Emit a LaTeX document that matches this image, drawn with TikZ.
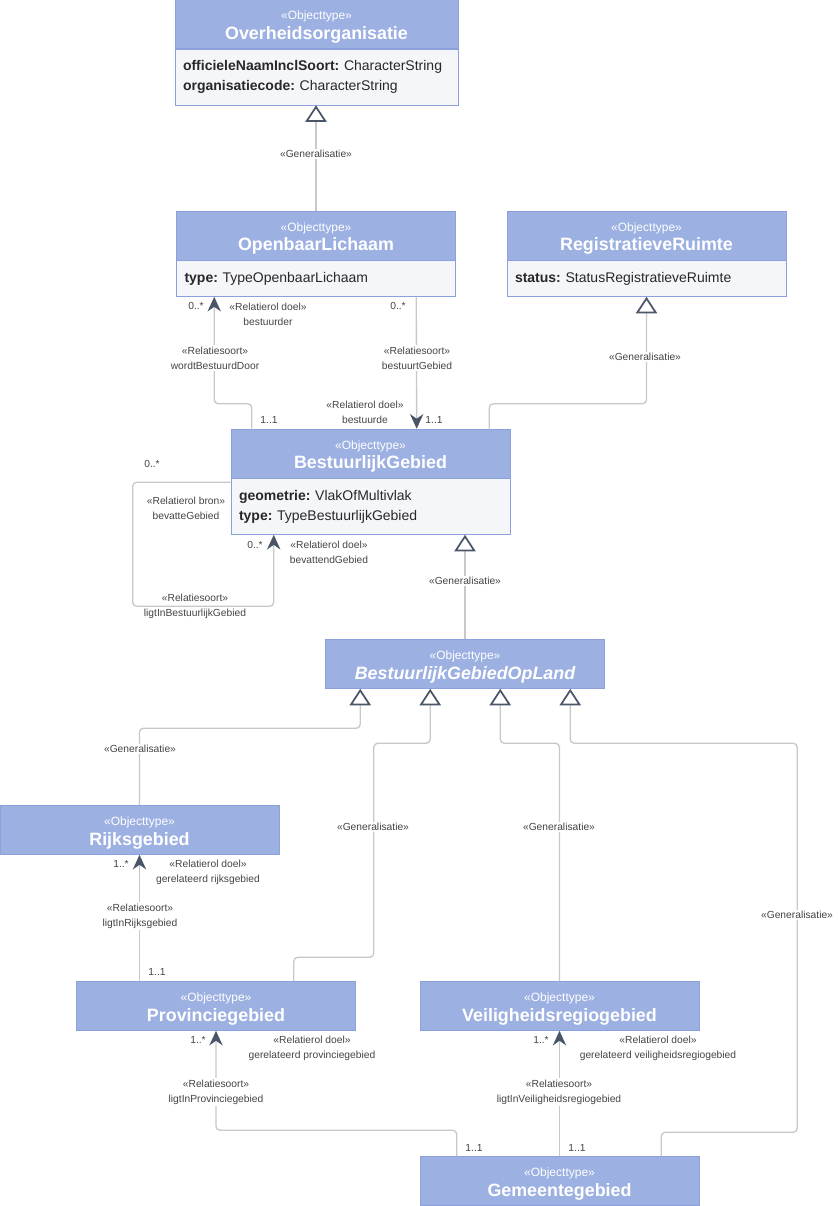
\documentclass[tikz,border=0pt]{standalone}
\usepackage{fontspec}
\setmainfont{Liberation Sans}
\usepackage{xcolor}
\usetikzlibrary{positioning,calc,arrows.meta}
\definecolor{umlhead}{RGB}{157,176,226}
\definecolor{umlborder}{RGB}{140,160,220}
\definecolor{umlbody}{RGB}{245,246,250}
\definecolor{linegray}{RGB}{200,200,200}
\definecolor{tipgray}{RGB}{74,85,104}
\definecolor{txtdark}{RGB}{40,40,40}
\definecolor{lbltxt}{RGB}{68,68,68}
\frenchspacing
\newcommand{\objhead}[1]{{\fontsize{9}{10}\selectfont\rule{0pt}{11pt}«Objecttype»}\\[2.5pt]{\fontsize{13.4}{16}\selectfont\bfseries #1}}
\newcommand{\attr}[2]{\textbf{#1:} #2}

\begin{document}
\begin{tikzpicture}[
  x=0.75pt, y=-0.75pt,
  hdr/.style={draw=umlborder, fill=umlhead, text=white, align=center, minimum width=#1, minimum height=36.75pt, inner sep=0pt},
  hdr/.default=209.25pt,
  body/.style={draw=umlborder, fill=umlbody, text=txtdark, align=left, text width=#1-12pt, inner xsep=6pt, inner ysep=0pt, minimum height=27pt, font=\fontsize{10.5}{15}\selectfont},
  body/.default=209.25pt,
  conn/.style={draw=linegray, line width=1pt, rounded corners=3pt},
  gen/.style={conn, -{Triangle[open, length=12.5pt, width=16pt, line width=1.3pt, color=tipgray, fill=white]}},
  assoc/.style={conn, -{Stealth[length=11pt, width=10pt, inset=3.5pt, color=tipgray]}},
  lbl/.style={fill=white, text=lbltxt, align=center, inner sep=1pt, font=\fontsize{7.7}{11.25}\selectfont},
  mult/.style={lbl, fill=none},
]
\useasboundingbox (0,0) rectangle (838,1206);
% ================= CLASSES =================
\node[hdr=212.25pt] (ovh) at (316.5,24) {\objhead{Overheidsorganisatie}};
\node[body=212.25pt, minimum height=42pt, below=0pt of ovh] (ovhb) {\attr{officieleNaamInclSoort}{CharacterString}\\\attr{organisatiecode}{CharacterString}};
\node[hdr] (ol) at (316,235.5) {\objhead{OpenbaarLichaam}};
\node[body, below=0pt of ol] (olb) {\attr{type}{TypeOpenbaarLichaam}};
\node[hdr] (rr) at (646.5,235.5) {\objhead{RegistratieveRuimte}};
\node[body, below=0pt of rr] (rrb) {\attr{status}{StatusRegistratieveRuimte}};
\node[hdr] (bg) at (370.5,453.5) {\objhead{BestuurlijkGebied}};
\node[body, minimum height=42pt, below=0pt of bg] (bgb) {\attr{geometrie}{VlakOfMultivlak}\\\attr{type}{TypeBestuurlijkGebied}};
\node[hdr] (bgol) at (465,664) {\objhead{\itshape BestuurlijkGebiedOpLand}};
\node[hdr] (rijk) at (139.5,830) {\objhead{Rijksgebied}};
\node[hdr] (prov) at (216,1006) {\objhead{Provinciegebied}};
\node[hdr] (veil) at (559.5,1006) {\objhead{Veiligheidsregiogebied}};
\node[hdr] (gem) at (559.5,1181) {\objhead{Gemeentegebied}};
% ================= GENERALISATIONS =================
\draw[gen] (ol.north) -- (ol.north |- ovhb.south);
\draw[gen] ($(bg.north east)+(-21,0)$) -- ++(0,-25) -| (rrb.south);
\draw[gen] (bgol.north) -- (bgol.north |- bgb.south);
\draw[gen] (rijk.north) -- ++(0,-77) -| ($(bgol.south west)+(35,0)$);
\draw[gen] ($(prov.north east)+(-62,0)$) -- ++(0,-24) -- ++(80,0) -- ++(0,-214) -| ($(bgol.south west)+(105,0)$);
\draw[gen] (veil.north) -- ++(0,-238) -| ($(bgol.south west)+(175,0)$);
\draw[gen] ($(gem.north east)+(-38,0)$) -- ++(0,-24) -- ++(136,0) -- ++(0,-389) -| ($(bgol.south west)+(245,0)$);
% ================= RELATIONS =================
\draw[assoc] ($(bg.north west)+(21,0)$) -- ++(0,-25) -| ($(olb.south west)+(38,0)$);
\draw[assoc] ($(olb.south west)+(240,0)$) -- ($(bg.north west)+(186,0)$);
\draw[assoc] ($(bgb.north west)+(0,4)$) -- ++(-98,0) -- ++(0,124) -| ($(bgb.south west)+(43,0)$);
\draw[assoc] (rijk.south |- prov.north) -- (rijk.south);
\draw[assoc] ($(gem.north west)+(37,0)$) -- ++(0,-26) -| (prov.south);
\draw[assoc] (gem.north) -- (veil.south);
% ================= LABELS =================
\node[lbl] (g1) at (316,154) {«Generalisatie»};
\node[lbl] (g2) at (645,357) {«Generalisatie»};
\node[lbl] (g3) at (465,581) {«Generalisatie»};
\node[lbl] (g4) at (140,749) {«Generalisatie»};
\node[lbl] (g5) at (373,827) {«Generalisatie»};
\node[lbl] (g6) at (559,827) {«Generalisatie»};
\node[lbl] (g7) at (797,915) {«Generalisatie»};
% wordtBestuurdDoor
\node[mult] (m1) at (196,306) {0..*};
\node[mult] (r1) at (268,314) {«Relatierol doel»\\bestuurder};
\node[lbl] (s1) at (215,358) {«Relatiesoort»\\wordtBestuurdDoor};
\node[mult] (m2) at (269,420) {1..1};
% bestuurtGebied
\node[mult] (m3) at (398,306) {0..*};
\node[lbl] (s2) at (417,358) {«Relatiesoort»\\bestuurtGebied};
\node[mult] (r2) at (365,412) {«Relatierol doel»\\bestuurde};
\node[mult] (m4) at (434,420) {1..1};
% ligtInBestuurlijkGebied
\node[mult] (m5) at (152,464) {0..*};
\node[mult] (r3) at (186,508) {«Relatierol bron»\\bevatteGebied};
\node[mult] (m6) at (255,545) {0..*};
\node[mult] (r4) at (329,552) {«Relatierol doel»\\bevattendGebied};
\node[mult] (s3) at (195,606) {«Relatiesoort»\\ligtInBestuurlijkGebied};
% ligtInRijksgebied
\node[mult] (m7) at (121,864) {1..*};
\node[mult] (r5) at (208,872) {«Relatierol doel»\\gerelateerd rijksgebied};
\node[lbl] (s4) at (140,916) {«Relatiesoort»\\ligtInRijksgebied};
\node[mult] (m8) at (157,972) {1..1};
% ligtInProvinciegebied
\node[mult] (m9) at (198,1040) {1..*};
\node[mult] (r6) at (312,1048) {«Relatierol doel»\\gerelateerd provinciegebied};
\node[lbl] (s5) at (216,1092) {«Relatiesoort»\\ligtInProvinciegebied};
\node[mult] (m10) at (474,1148) {1..1};
% ligtInVeiligheidsregiogebied
\node[mult] (m11) at (541,1040) {1..*};
\node[mult] (r7) at (658,1048) {«Relatierol doel»\\gerelateerd veiligheidsregiogebied};
\node[lbl] (s6) at (559,1092) {«Relatiesoort»\\ligtInVeiligheidsregiogebied};
\node[mult] (m12) at (577,1148) {1..1};
\end{tikzpicture}
\end{document}
